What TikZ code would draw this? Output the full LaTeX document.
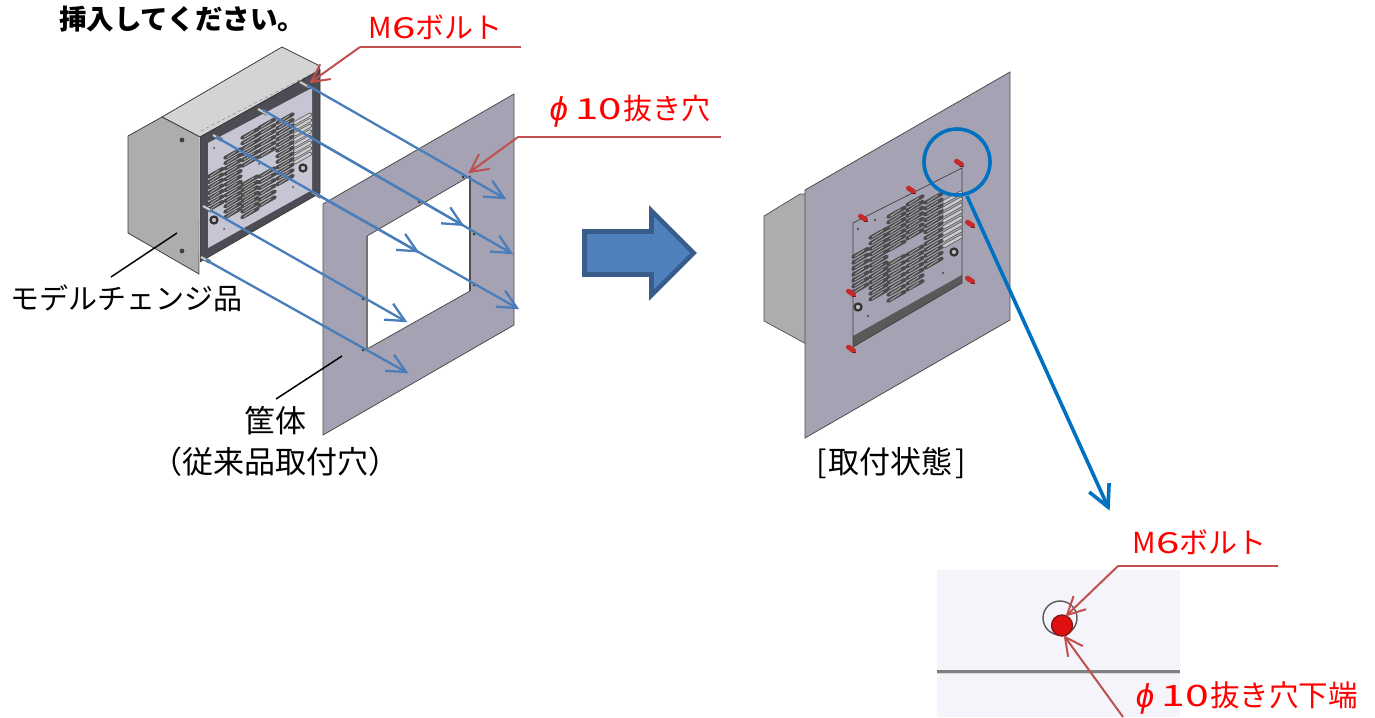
\documentclass[tikz,border=0pt]{standalone}
\usepackage{fontspec}
\usetikzlibrary{calc}
\setmainfont{Noto Sans CJK JP}
\newfontfamily\widefont[FakeStretch=1.45]{Noto Sans CJK JP}
\newfontfamily\phifont{Liberation Sans}
\newcommand{\fs}[1]{\fontsize{#1}{#1}\selectfont}
\newcommand{\phisym}{\makebox[1em]{\phifont\itshape\fontsize{33}{33}\selectfont\raisebox{-.04em}{ϕ}}}
\newcommand{\ten}{{\widefont\hspace{.07em}10\hspace{.04em}}}
\newcommand{\six}{{\widefont 6}}
\definecolor{sheet}{HTML}{A5A3B3}
\definecolor{leadred}{HTML}{C0504D}
\definecolor{flowblue}{HTML}{4A7EBB}
\definecolor{ringblue}{HTML}{0070C0}
\definecolor{panel}{HTML}{ADADAD}
\definecolor{frameD}{HTML}{4C4C54}
\definecolor{plateL}{HTML}{C6C5D3}
\definecolor{bigfill}{HTML}{4F81BD}
\definecolor{bigedge}{HTML}{385D8A}
\definecolor{detailbg}{HTML}{F4F4FA}
\definecolor{dotred}{HTML}{E01010}
\definecolor{dotedge}{HTML}{801818}
\definecolor{boltred}{HTML}{C42B2B}
\tikzset{
  x=1pt,y=-1pt,
  redtxt/.style={text=red,inner sep=0pt,font=\fs{29}},
  blktxt/.style={text=black,inner sep=0pt,font=\fs{29}},
  redlead/.style={draw=leadred,line width=2pt},
  flow/.style={draw=flowblue,line width=2.3pt},
  ringlead/.style={draw=ringblue,line width=3.6pt},
  blacklead/.style={draw=black,line width=1.5pt},
  hole/.style={circle,fill=black!80,inner sep=0pt,minimum size=3pt},
}
% style, from, tip, barb length, half angle
\newcommand{\barbline}[5]{%
  \draw[#1] (#2) -- (#3);
  \draw[#1,line join=miter] ($(#3)!#4pt!#5:(#2)$) -- (#3) -- ($(#3)!#4pt!-#5:(#2)$);}
% x, width, left y, count, spacing
\newcommand{\ventcol}[5]{%
  \foreach \k in {1,...,#4}{%
    \pgfmathsetmacro{\yy}{#3+(\k-1)*#5}%
    \pgfmathsetmacro{\yz}{\yy-0.56*#2}%
    \draw[line width=3.8pt,line cap=round,draw=black!70] (#1,\yy) -- (#1+#2,\yz);
    \draw[line width=.7pt,draw=black!28] (#1+2,\yy-.6) -- (#1+#2-4,\yz+1.6);
  }}
\newcommand{\ventlight}[5]{%
  \foreach \k in {1,...,#4}{%
    \pgfmathsetmacro{\yy}{#3+(\k-1)*#5}%
    \pgfmathsetmacro{\yz}{\yy-0.56*#2}%
    \draw[line width=4pt,line cap=round,draw=black!62] (#1,\yy) -- (#1+#2,\yz);
    \draw[line width=2.4pt,line cap=round,draw=black!20] (#1,\yy) -- (#1+#2,\yz);
  }}
\newcommand{\boltg}[2]{%
  \draw[line width=3.6pt,draw=black!65] (#1-5,#2-3) -- (#1+4,#2+2);
  \draw[line width=2pt,draw=black!20] (#1-5,#2-3) -- (#1+4,#2+2);}
\newcommand{\boltr}[2]{%
  \draw[line width=5pt,line cap=round,draw=boltred] (#1-2.5,#2-1.8) -- (#1+2.5,#2+1.5);
  \draw[line width=1.2pt,draw=dotedge] (#1+.5,#2+3.6) -- (#1+5,#2+3.6);}
\begin{document}
\begin{tikzpicture}
\useasboundingbox (0,0) rectangle (1375,717);
\fill[white] (0,0) rectangle (1375,717);

% ---------- left box
\filldraw[fill=black!17,draw=black!75,line width=.8pt] (162,117) -- (282,47) -- (318,65) -- (320,70) -- (200,137) -- cycle;
\draw[black!45,line width=.6pt,dashed] (201,131) -- (315,72);
\filldraw[fill=panel,draw=black!75,line width=.8pt] (128,136) -- (162,117) -- (200,137) -- (199,274) -- (128,233) -- cycle;
\fill[black!75] (182,140) circle (2.4) (182,251) circle (2.4);
\filldraw[fill=frameD,draw=black!80,line width=.6pt] (200,137) -- (320,70) -- (320,193) -- (200,262) -- cycle;
\fill[plateL] (208,143) -- (312,88) -- (312,190) -- (208,248) -- cycle;
\draw[black!25,line width=.6pt] (199.5,137) -- (199.5,274);
\ventcol{208}{15}{177}{7}{5.5}
\ventcol{225}{16}{158}{12}{5.4}
\ventcol{242}{16}{138}{6}{5.6}
\ventcol{242}{16}{185}{7}{5.4}
\ventcol{259}{16}{128}{6}{5.8}
\ventcol{259}{16}{177}{6}{5.8}
\ventcol{277}{16}{123}{12}{5.6}
\ventlight{295}{15}{123}{8}{5.6}
\filldraw[fill=black!25,draw=black!80,line width=2.2pt] (303,168) circle (3.5);
\filldraw[fill=black!25,draw=black!80,line width=2.2pt] (214,220) circle (3.5);
\fill[black!70] (214,148) circle (1) (236,151) circle (1) (293,187) circle (1) (224,229) circle (1) (259,164) circle (1);
\boltg{218}{138}\boltg{263}{112}\boltg{305}{85}\boltg{208}{209}\boltg{206}{260}\boltg{317}{195}

% ---------- sheet with hole
\filldraw[fill=sheet,draw=black!70,line width=.8pt,even odd rule]
  (323,204) -- (514,94) -- (514,325) -- (323,435) -- cycle
  (367,236) -- (470,176) -- (470,291) -- (367,349) -- cycle;
\draw[black!55,line width=1.2pt] (367,236) -- (367,349);
\draw[black!70,line width=1.6pt] (470,176) -- (470,291);
\foreach \n/\p in {h1/{(463,177)},h2/{(419,202)},h3/{(375,227)},h4/{(474,234)},h5/{(474,285)},h6/{(363,299)},h7/{(363,350)}}
  \node[hole] (\n) at \p {};

% ---------- flow arrows
\coordinate (fa) at (307,85);  \coordinate (fat) at (504,198);
\coordinate (fc) at (263,110); \coordinate (fct) at (511,253);
\coordinate (fb) at ($(fc)!0.23!(fct)$); \coordinate (fbt) at ($(fc)!0.8024!(fct)$);
\coordinate (fe) at (216,137); \coordinate (fet) at (517,308);
\coordinate (fd) at ($(fe)!0.3455!(fet)$); \coordinate (fdt) at ($(fe)!0.6678!(fet)$);
\coordinate (ff) at (210,210); \coordinate (fft) at (405,321);
\coordinate (fg) at (206,260); \coordinate (fgt) at (406,372);
\barbline{flow}{fa}{fat}{21}{26}
\barbline{flow}{fb}{fbt}{21}{26}
\barbline{flow}{fc}{fct}{21}{26}
\barbline{flow}{fd}{fdt}{21}{26}
\barbline{flow}{fe}{fet}{21}{26}
\barbline{flow}{ff}{fft}{21}{26}
\barbline{flow}{fg}{fgt}{21}{26}

% ---------- big arrow
\filldraw[fill=bigfill,draw=bigedge,line width=4.6pt,miter limit=10]
  (584.5,231.5) -- (651.5,231.5) -- (651.5,211) -- (693.5,253) -- (651.5,295) -- (651.5,274.5) -- (584.5,274.5) -- cycle;

% ---------- right view
\filldraw[fill=panel,draw=black!70,line width=.7pt] (764,216) -- (800,194) -- (810,194) -- (810,346) -- (764,321) -- cycle;
\filldraw[fill=sheet,draw=black!70,line width=.8pt] (805,190) -- (1010,72) -- (1010,320) -- (805,438) -- cycle;
\fill[black!65] (853,336) -- (962,275) -- (962,283) -- (853,347) -- cycle;
\draw[black!75,line width=.7pt] (853,223) -- (962,168) -- (962,283) -- (853,347) -- cycle;
\ventcol{853}{15}{257}{7}{5.9}
\ventcol{870}{17}{238}{12}{5.6}
\ventcol{888}{17}{217}{7}{5.6}
\ventcol{888}{17}{265}{7}{6}
\ventcol{907}{16}{205}{7}{5.6}
\ventcol{907}{16}{255}{7}{5.8}
\ventcol{925}{17}{203}{12}{5.9}
\ventlight{944}{17}{202}{8}{6.3}
\filldraw[fill=black!25,draw=black!80,line width=2.2pt] (954,252) circle (3.5);
\filldraw[fill=black!25,draw=black!80,line width=2.2pt] (858,307) circle (3.5);
\fill[black!75] (858,229) circle (1.2) (875,220) circle (1.2) (943,273) circle (1.2) (868,316) circle (1.2);
\boltr{959}{163}\boltr{911}{190}\boltr{863}{218}\boltr{970}{224}\boltr{970}{280}\boltr{851}{293}\boltr{851}{349}
\node[circle,draw=ringblue,line width=3.6pt,minimum size=66pt,inner sep=0pt] (ring) at (957,162) {};
\coordinate (ringa) at (967,196);
\coordinate (ringt) at (1108,507);
\barbline{ringlead}{ringa}{ringt}{24}{27}

% ---------- detail view
\fill[detailbg] (937,570) rectangle (1180,717);
\fill[black!50] (937,669.5) rectangle (1180,672.5);
\fill[black!15] (937,672.5) rectangle (1180,674);
\draw[black!65,line width=1.4pt] (1060,618) circle (17);
\filldraw[fill=dotred,draw=dotedge,line width=1.4pt] (1062,625.5) circle (10.5);

% ---------- leaders
\coordinate (l1a) at (521,47);  \coordinate (l1b) at (360,47);  \coordinate (l1t) at (311,82);
\coordinate (l2a) at (721,137); \coordinate (l2b) at (518,137); \coordinate (l2t) at (470,172);
\coordinate (l3a) at (1278,566);\coordinate (l3b) at (1118,566);\coordinate (l3t) at (1067,615);
\coordinate (l4a) at (1123,717);\coordinate (l4t) at (1065,637);
\draw[redlead] (l1a) -- (l1b);
\barbline{redlead}{l1b}{l1t}{20}{27}
\draw[redlead] (l2a) -- (l2b);
\barbline{redlead}{l2b}{l2t}{20}{27}
\draw[redlead] (l3a) -- (l3b);
\barbline{redlead}{l3b}{l3t}{20}{27}
\barbline{redlead}{l4a}{l4t}{20}{27}

% ---------- labels
\node[inner sep=0pt,font=\fs{27.5}\bfseries,anchor=west] (title) at (59,19) {挿入してください。};
\node[redtxt] (m1) at (435.5,27) {M\six ボルト};
\node[redtxt,anchor=west] (p1) at (544,111) {\phisym\ten 抜き穴};
\node[redtxt] (m2) at (1199.5,542) {M\six ボルト};
\node[redtxt,anchor=west,font=\fs{29.5}] (p2) at (1130,698) {\phisym\ten 抜き穴下端};
\node[blktxt] (model) at (126,298) {モデルチェンジ品};
\node[blktxt,font=\fs{31}] (case) at (275,421) {筐体};
\node[blktxt,font=\fs{31}] (orig) at (275,462) {（従来品取付穴）};
\node[blktxt,font=\fs{31}] (state) at (891,463) {[\hspace{2pt}取付状態\hspace{2pt}]};
\coordinate (b1a) at (111,277); \coordinate (b1b) at (177,233);
\coordinate (b2a) at (276,399); \coordinate (b2b) at (342,356);
\draw[blacklead] (b1a) -- (b1b);
\draw[blacklead] (b2a) -- (b2b);
\end{tikzpicture}
\end{document}
